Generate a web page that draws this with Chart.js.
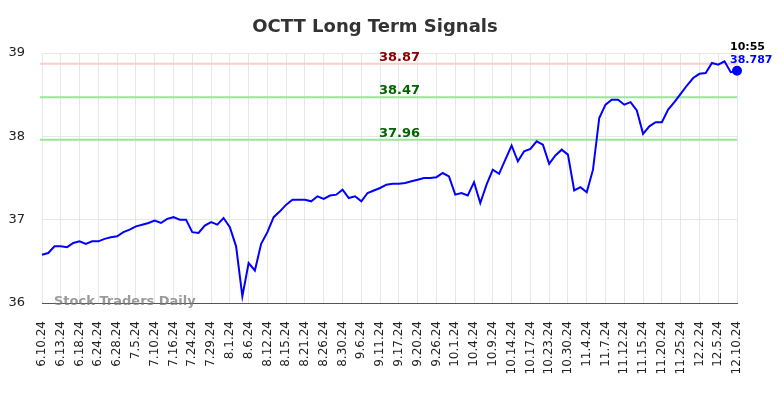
<!DOCTYPE html>
<html>
<head>
<meta charset="utf-8">
<script src="https://cdn.jsdelivr.net/npm/chart.js@4/dist/chart.umd.min.js"></script>
<style>
html, body { margin: 0; padding: 0; background: #fff; }
</style>
</head>
<body>
<canvas id="chart" width="784" height="398"></canvas>
<script>
const tickLabels = ["6.10.24", "6.13.24", "6.18.24", "6.24.24", "6.28.24", "7.5.24", "7.10.24", "7.16.24", "7.24.24", "7.29.24",
	"8.1.24", "8.6.24", "8.12.24", "8.15.24", "8.21.24", "8.26.24", "8.30.24", "9.6.24", "9.11.24", "9.17.24",
	"9.20.24", "9.26.24", "10.1.24", "10.4.24", "10.9.24", "10.14.24", "10.17.24", "10.23.24", "10.30.24", "11.4.24",
	"11.7.24", "11.12.24", "11.15.24", "11.20.24", "11.25.24", "12.2.24", "12.5.24", "12.10.24"];

const prices = [
	36.58, 36.60, 36.68, 36.68, 36.67, 36.72, 36.74, 36.71, 36.74, 36.74,
	36.77, 36.79, 36.80, 36.85, 36.88, 36.92, 36.94, 36.96, 36.99, 36.96,
	37.01, 37.03, 37.00, 37.00, 36.85, 36.84, 36.93, 36.97, 36.94, 37.02,
	36.91, 36.68, 36.08, 36.48, 36.39, 36.71, 36.85, 37.03, 37.10, 37.18,
	37.24, 37.24, 37.24, 37.22, 37.28, 37.25, 37.29, 37.30, 37.36, 37.26,
	37.28, 37.22, 37.32, 37.35, 37.38, 37.42, 37.43, 37.43, 37.44, 37.46,
	37.48, 37.50, 37.50, 37.51, 37.56, 37.52, 37.30, 37.32, 37.29, 37.45,
	37.20, 37.42, 37.60, 37.55, 37.72, 37.89, 37.70, 37.82, 37.85, 37.94,
	37.90, 37.67, 37.77, 37.84, 37.78, 37.35, 37.39, 37.33, 37.60, 38.22,
	38.38, 38.44, 38.44, 38.38, 38.41, 38.31, 38.03, 38.12, 38.17, 38.17,
	38.32, 38.41, 38.51, 38.61, 38.70, 38.75, 38.76, 38.88, 38.86, 38.90,
	38.77, 38.787,
];

const levels = [38.87, 38.47, 37.96];
const levelLines = ["#ffcccc", "#99e699", "#99e699"];
const levelText = ["#8b0000", "#006400", "#006400"];

const lastTime = "10:55";
const lastIdx = prices.length - 1;

const font = "'DejaVu Sans', sans-serif";

const overlay = {
	id: "overlay",
	beforeDatasetsDraw(chart) {
		let ctx = chart.ctx;
		let area = chart.chartArea;
		let y = chart.scales.y;
		ctx.save();
		for (let i = 0; i < levels.length; i++) {
			let py = y.getPixelForValue(levels[i]);
			ctx.strokeStyle = levelLines[i];
			ctx.lineWidth = 2;
			ctx.beginPath();
			ctx.moveTo(area.left - 2, py);
			ctx.lineTo(area.right, py);
			ctx.stroke();
			ctx.fillStyle = levelText[i];
			ctx.font = "bold 13px " + font;
			ctx.textAlign = "center";
			ctx.textBaseline = "alphabetic";
			ctx.fillText(levels[i].toFixed(2), (area.left + area.right) / 2 + 10, py - 3);
		}
		// watermark
		ctx.fillStyle = "rgba(120,120,120,0.75)";
		ctx.font = "bold 13px " + font;
		ctx.textAlign = "left";
		ctx.textBaseline = "middle";
		ctx.fillText("Stock Traders Daily", area.left + 12, area.bottom - 1);
		ctx.restore();
	},
	afterDraw(chart) {
		let ctx = chart.ctx;
		let pt = chart.getDatasetMeta(0).data[lastIdx];
		ctx.save();
		// title
		ctx.fillStyle = "#333";
		ctx.font = "bold 18px " + font;
		ctx.textAlign = "center";
		ctx.textBaseline = "middle";
		ctx.fillText("OCTT Long Term Signals", 375, 27);
		// last value
		ctx.textAlign = "left";
		ctx.font = "bold 11px " + font;
		ctx.fillStyle = "#000";
		ctx.fillText(lastTime, pt.x - 7, pt.y - 24);
		ctx.fillStyle = "#0000ff";
		ctx.fillText(String(prices[lastIdx]), pt.x - 7, pt.y - 11);
		ctx.restore();
	},
};

const config = {
	type: "line",
	data: {
		datasets: [
			{
				data: prices.map((v, i) => ({ x: i, y: v })),
				borderColor: "#0000ff",
				backgroundColor: "#0000ff",
				borderWidth: 2,
				tension: 0,
				clip: false,
				pointRadius: (c) => (c.dataIndex === lastIdx ? 4 : 0),
				pointHoverRadius: 0,
			},
		],
	},
	options: {
		responsive: false,
		animation: false,
		devicePixelRatio: 1,
		layout: { padding: { top: 53, right: 47, left: 0, bottom: 0 } },
		plugins: {
			legend: { display: false },
			title: { display: false },
			tooltip: { enabled: false },
		},
		scales: {
			x: {
				type: "linear",
				min: 0,
				max: lastIdx,
				afterFit: (s) => { s.height = 95; },
				afterBuildTicks: (s) => {
					s.ticks = tickLabels.map((t, i) => ({ value: i * 3 }));
				},
				ticks: {
					autoSkip: false,
					maxRotation: 90,
					minRotation: 90,
					padding: 18,
					color: "#222",
					font: { family: font, size: 12 },
					callback: (v) => tickLabels[Math.round(v / 3)],
				},
				grid: { color: "#e6e6e6", drawTicks: false },
				border: { color: "#555", width: 1 },
			},
			y: {
				min: 36,
				max: 39,
				afterFit: (s) => { s.width = 42; },
				ticks: {
					stepSize: 1,
					padding: 17,
					color: "#222",
					font: { family: font, size: 13 },
				},
				grid: { color: "#e6e6e6", drawTicks: false },
				border: { display: false },
			},
		},
	},
	plugins: [overlay],
};

const chart = new Chart(document.getElementById("chart"), config);
</script>
</body>
</html>
